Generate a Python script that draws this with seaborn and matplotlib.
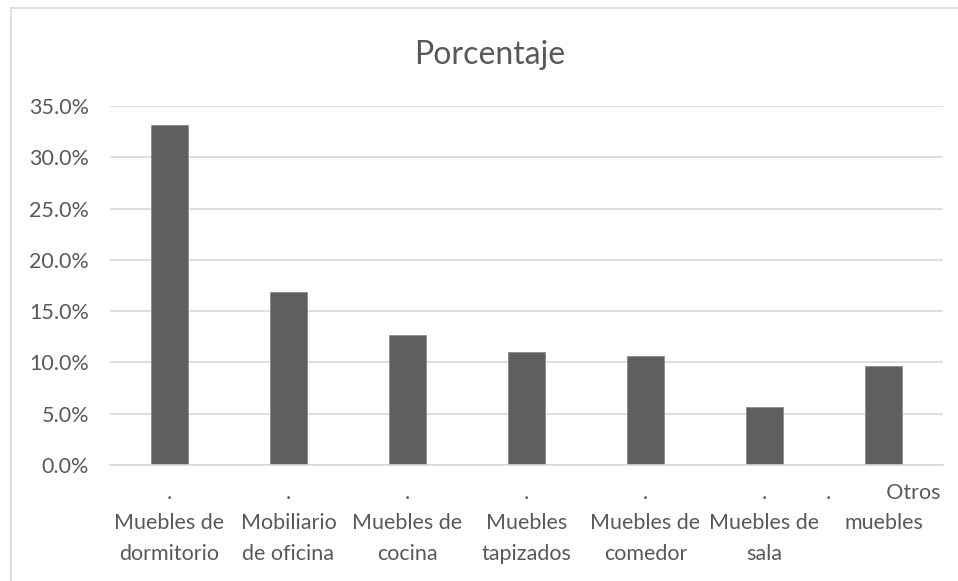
import matplotlib
matplotlib.use("Agg")
import matplotlib.pyplot as plt
import seaborn as sns
import pandas as pd
from matplotlib.ticker import FuncFormatter, MultipleLocator
from matplotlib.lines import Line2D

categories = [".\nMuebles de\ndormitorio", ".\nMobiliario\nde oficina", ".\nMuebles de\ncocina",
              ".\nMuebles\ntapizados", ".\nMuebles de\ncomedor", ".\nMuebles de\nsala",
              ".          Otros\nmuebles"]
values = [33.1, 16.9, 12.7, 11.0, 10.6, 5.7, 9.7]
title = "Porcentaje"

sns.set_theme(style="white")
plt.rcParams['font.family'] = ['Lato', 'DejaVu Sans']

W, H = 958, 581
fig = plt.figure(figsize=(W / 100, H / 100), dpi=100)
ax = fig.add_axes([110 / W, 1 - 465 / H, (943 - 110) / W, (465 - 106) / H])

df = pd.DataFrame({"cat": categories, "val": values})
sns.barplot(data=df, x="cat", y="val", ax=ax, color="#5f5f5f", width=0.31,
            edgecolor="#8a8a8a", linewidth=0.6, saturation=1)

ax.set_ylim(0, 35)
ax.yaxis.set_major_locator(MultipleLocator(5))
ax.yaxis.set_major_formatter(FuncFormatter(lambda v, p: f"{v:.1f}%"))
ax.grid(axis="y", color="#d9d9d9", linewidth=1.2)
ax.set_axisbelow(True)
for s in ["top", "right", "left"]:
    ax.spines[s].set_visible(False)
ax.spines["bottom"].set_color("#d9d9d9")
ax.spines["bottom"].set_linewidth(1.2)
ax.set_xlabel("")
ax.set_ylabel("")
ax.tick_params(axis="both", length=0, labelsize=15.5, colors="#595959")
ax.tick_params(axis="y", pad=15)
ax.tick_params(axis="x", pad=13)
for lbl in ax.get_xticklabels():
    lbl.set_linespacing(1.65)
    lbl.set_ha("center")

fig.text(490 / W, 1 - 55 / H, title, ha="center", va="center",
         fontsize=23, color="#595959")

# chart border
fig.add_artist(Line2D([11 / W, 11 / W], [0, 1 - 8 / H], transform=fig.transFigure,
                      color="#d9d9d9", linewidth=1.2))
fig.add_artist(Line2D([11 / W, 1], [1 - 8 / H, 1 - 8 / H], transform=fig.transFigure,
                      color="#d9d9d9", linewidth=1.2))

fig.savefig("out.png", dpi=100, facecolor="white")
